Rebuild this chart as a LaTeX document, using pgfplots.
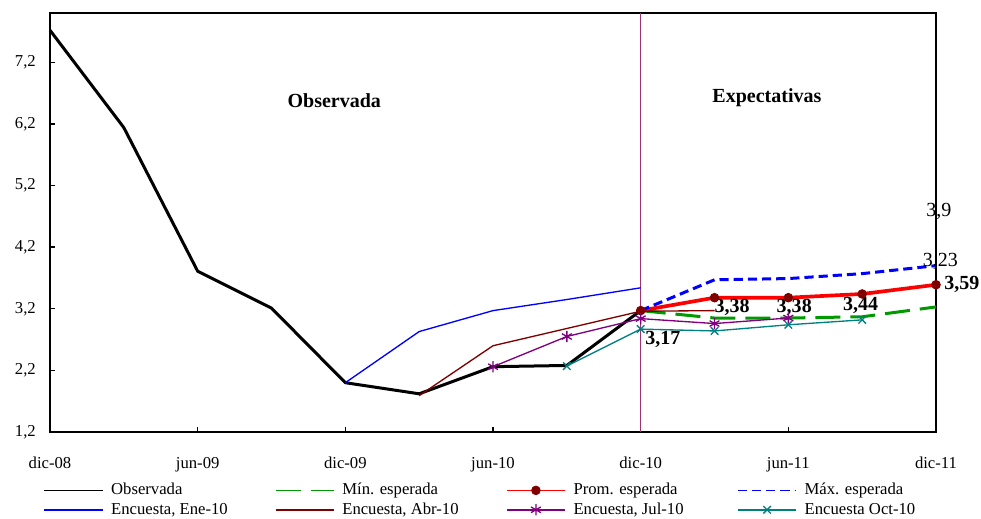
\documentclass[border=0pt]{standalone}
\usepackage{fontspec}
\setmainfont{Liberation Serif}
\usepackage{pgfplots}
\pgfplotsset{compat=1.18}
\definecolor{darkred}{RGB}{128,0,0}
\definecolor{mgreen}{RGB}{0,153,0}
\definecolor{mpurple}{RGB}{128,0,128}
\definecolor{mteal}{RGB}{0,128,128}
\definecolor{vline}{RGB}{160,50,110}
\newcommand{\legtxt}[1]{\makebox[99.6pt][l]{\hspace*{3pt}#1}}
\begin{document}
\begin{tikzpicture}
\begin{axis}[
  at={(0,0)}, anchor=south west,
  width=531.6pt, height=251.4pt, scale only axis,
  xmin=0, xmax=12, ymin=1.2, ymax=8.0,
  clip=false,
  axis line style={line width=1.2pt},
  xtick={0,2,4,6,8,10,12},
  xticklabels={dic-08,jun-09,dic-09,jun-10,dic-10,jun-11,dic-11},
  ytick={1.2,2.2,3.2,4.2,5.2,6.2,7.2},
  tick align=inside, tick pos=left, major tick length=3pt,
  tick style={line width=0.8pt, black},
  /pgf/number format/assume math mode=true,
  yticklabel style={/pgf/number format/fixed, /pgf/number format/fixed zerofill, /pgf/number format/precision=1, /pgf/number format/use comma, xshift=-5pt},
  ticklabel style={font=\fontsize{10}{12}\selectfont},
  xticklabel style={yshift=-11.5pt},
  legend columns=4,
  legend style={draw=none, fill=none, at={(0,0)}, anchor=north west, xshift=-4pt, yshift=-29pt,
    font=\fontsize{10}{12}\selectfont, row sep=0pt, inner sep=0pt,
    nodes={inner sep=1.6pt}},
  legend cell align=left,
  legend image code/.code={\draw[mark repeat=2,mark phase=2,#1] plot coordinates {(0pt,0pt) (17.5pt,0pt) (35pt,0pt)};},
  legend image post style={line width=0.9pt},
]
\addplot[vline, line width=0.8pt, forget plot] coordinates {(8,1.2) (8,8.0)};

% Observada
\addplot[black, line width=1.8pt] coordinates {
 (0,7.72) (1,6.14) (2,3.81) (3,3.21) (4,2.00) (5,1.82) (6,2.26) (7,2.28) (8,3.17)};
\addlegendentry{\legtxt{Observada}}
% Min
\addplot[mgreen, line width=1.8pt, dash pattern=on 15pt off 6pt] coordinates {
 (8,3.17) (9,3.05) (10,3.05) (11,3.07) (12,3.23)};
\addlegendentry{\legtxt{Mín. esperada}}
% Prom
\addplot[red, line width=2.2pt, mark=*, mark size=2.6pt, mark options={solid, fill=darkred, draw=darkred, line width=0.5pt}] coordinates {
 (8,3.17) (9,3.38) (10,3.38) (11,3.44) (12,3.59)};
\addlegendentry{\legtxt{Prom. esperada}}
% Max
\addplot[blue, line width=1.8pt, dash pattern=on 5.5pt off 3pt] coordinates {
 (8,3.17) (9,3.67) (10,3.69) (11,3.77) (12,3.90)};
\addlegendentry{\legtxt{Máx. esperada}}
% Ene-10
\addplot[blue, line width=0.8pt] coordinates {
 (4,2.00) (5,2.83) (6,3.17) (7,3.35) (8,3.54)};
\addlegendentry{\legtxt{Encuesta, Ene-10}}
% Abr-10
\addplot[darkred, line width=0.8pt] coordinates {
 (5,1.79) (6,2.60) (7,2.88) (8,3.16) (9,3.17)};
\addlegendentry{\legtxt{Encuesta, Abr-10}}
% Jul-10
\addplot[mpurple, line width=0.8pt, mark=asterisk, mark size=3.4pt, mark options={line width=0.8pt}] coordinates {
 (6,2.26) (7,2.75) (8,3.04) (9,2.96) (10,3.05)};
\addlegendentry{\legtxt{Encuesta, Jul-10}}
% Oct-10
\addplot[mteal, line width=0.8pt, mark=x, mark size=3.2pt, mark options={line width=0.8pt}] coordinates {
 (7,2.27) (8,2.87) (9,2.84) (10,2.94) (11,3.02)};
\addlegendentry{\legtxt{Encuesta Oct-10}}

\node[font=\bfseries\fontsize{12}{14}\selectfont] at (axis cs:3.85,6.58) {Observada};
\node[font=\bfseries\fontsize{12}{14}\selectfont] at (axis cs:9.71,6.63) {Expectativas};
\node[font=\fontsize{12}{14}\selectfont] at (axis cs:12.04,4.78) {3,9};
\node[font=\fontsize{12}{14}\selectfont] at (axis cs:12.06,3.97) {3,23};
\node[font=\bfseries\fontsize{12}{14}\selectfont] at (axis cs:12.35,3.59) {3,59};
\node[font=\bfseries\fontsize{12}{14}\selectfont] at (axis cs:9.24,3.22) {3,38};
\node[font=\bfseries\fontsize{12}{14}\selectfont] at (axis cs:10.08,3.22) {3,38};
\node[font=\bfseries\fontsize{12}{14}\selectfont] at (axis cs:10.98,3.26) {3,44};
\node[font=\bfseries\fontsize{12}{14}\selectfont] at (axis cs:8.3,2.70) {3,17};
\end{axis}
\pgfresetboundingbox
\path[use as bounding box] (-30pt,-51.6pt) rectangle (558.6pt,259.2pt);
\end{tikzpicture}
\end{document}
